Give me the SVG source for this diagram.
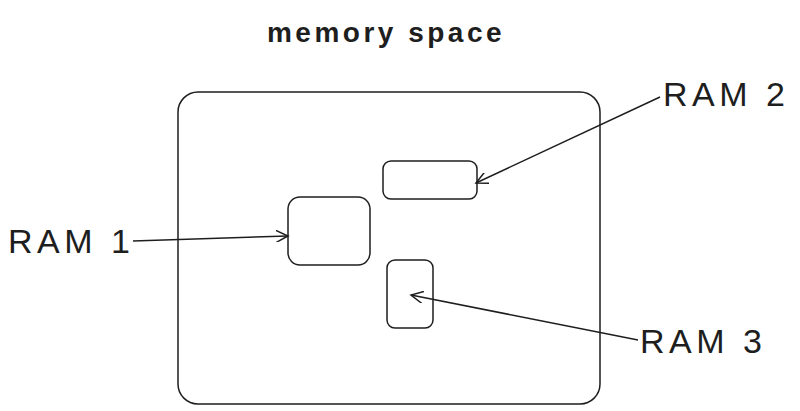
<svg xmlns="http://www.w3.org/2000/svg" width="800" height="411" viewBox="0 0 800 411">
<style>
.b{fill:none;stroke:#1e1e1e;stroke-width:1.5}
.t{font-family:"Liberation Sans",sans-serif;fill:#1e1e1e}
.l{font-size:34px;letter-spacing:4.5px}
.c{fill:none;stroke:#1e1e1e;stroke-width:1.5}
</style>
<defs>
<marker id="a" markerWidth="14" markerHeight="12" refX="12" refY="6" orient="auto" markerUnits="userSpaceOnUse">
<path d="M0,0 L12,6 L0,12" fill="none" stroke="#1e1e1e" stroke-width="1.5"/>
</marker>
</defs>
<rect width="800" height="411" fill="#fff"/>
<text class="t" x="386" y="42" font-size="28" font-weight="bold" text-anchor="middle" letter-spacing="3.5">memory space</text>
<g id="space"><rect class="b" x="178" y="92" width="422" height="312" rx="20"/></g>
<g id="ram1box"><rect class="b" x="288" y="197" width="82" height="68" rx="12"/></g>
<g id="ram2box"><rect class="b" x="383" y="161" width="94" height="38" rx="8"/></g>
<g id="ram3box"><rect class="b" x="387" y="260" width="46" height="68" rx="8"/></g>
<g id="ram1"><text class="t l" x="8" y="253">RAM 1</text></g>
<g id="ram2"><text class="t l" x="663" y="106">RAM 2</text></g>
<g id="ram3"><text class="t l" x="640" y="353">RAM 3</text></g>
<g id="connectors">
<path class="c" d="M133,241 L288,236" marker-end="url(#a)"/>
<path class="c" d="M660,97 L476,183" marker-end="url(#a)"/>
<path class="c" d="M638,340 L411,295" marker-end="url(#a)"/>
</g>
</svg>
